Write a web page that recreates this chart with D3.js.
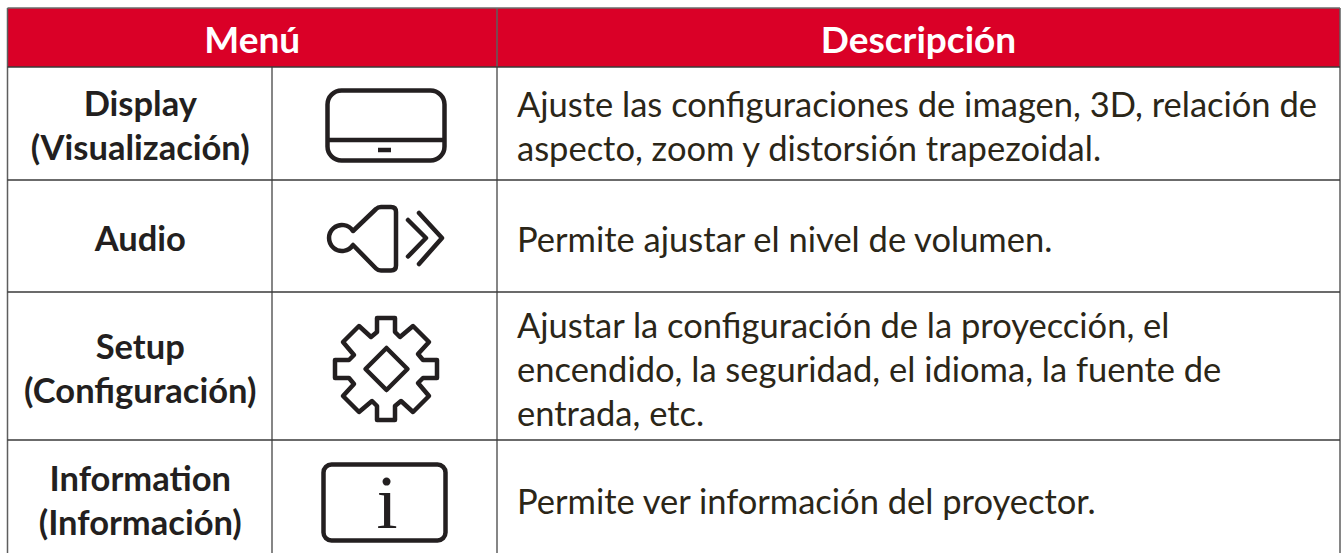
<!DOCTYPE html>
<html>
<head>
<meta charset="utf-8">
<script src="https://cdnjs.cloudflare.com/ajax/libs/d3/7.8.5/d3.min.js"></script>
<style>
html, body { margin: 0; padding: 0; background: #fff; }
svg { display: block; }
text { font-family: Lato, "Open Sans", sans-serif; }
</style>
</head>
<body>
<svg width="1342" height="553"></svg>
<script>
const headers = ["Menú", "Descripción"];
const menuLabels = [["Display", "(Visualización)"], ["Audio"], ["Setup", "(Configuración)"], ["Information", "(Información)"]];
const icons = ["display", "audio", "setup", "info"];
const descriptions = [
    ["Ajuste las configuraciones de imagen, 3D, relación de", "aspecto, zoom y distorsión trapezoidal."],
    ["Permite ajustar el nivel de volumen."],
    ["Ajustar la configuración de la proyección, el", "encendido, la seguridad, el idioma, la fuente de", "entrada, etc."],
    ["Permite ver información del proyector."]
];

const width = 1342, height = 553;
const red = "#da0027", ink = "#231f20", descInk = "#2b2618", rule = "#5e5e5e";
const colX = { left: 7.5, icon: 272, desc: 497, right: 1340 };
const rowY = [8, 67, 180, 292, 440, 557];
const lineH = 44;

const svg = d3.select("svg");

svg.append("rect")
    .attr("x", colX.left).attr("y", rowY[0])
    .attr("width", colX.right - colX.left).attr("height", rowY[1] - rowY[0])
    .attr("fill", red);

// table rules
const vLines = [[colX.left, rowY[0]], [colX.icon, rowY[1]], [colX.desc, rowY[0]], [colX.right, rowY[0]]];
svg.selectAll("line.v").data(vLines).enter().append("line")
    .attr("class", "v")
    .attr("x1", d => d[0]).attr("x2", d => d[0])
    .attr("y1", d => d[1]).attr("y2", height)
    .attr("stroke", rule).attr("stroke-width", 1.5);

svg.selectAll("line.h").data(rowY.slice(0, 5)).enter().append("line")
    .attr("class", "h")
    .attr("x1", colX.left).attr("x2", colX.right)
    .attr("y1", d => d).attr("y2", d => d)
    .attr("stroke", (d, i) => i === 0 ? "#6b6b6b" : "#3a3a3a").attr("stroke-width", 1.5);

// header
svg.selectAll("text.head").data(headers).enter().append("text")
    .attr("class", "head")
    .attr("x", (d, i) => i === 0 ? (colX.left + colX.desc) / 2 : (colX.desc + colX.right) / 2)
    .attr("y", 52.5)
    .attr("text-anchor", "middle")
    .attr("font-size", 37).attr("font-weight", 700)
    .attr("fill", "#fff")
    .text(d => d);

const rows = svg.selectAll("g.row").data(d3.range(menuLabels.length)).enter().append("g").attr("class", "row");

function firstBaseline(i, n) {
    const mid = (rowY[i + 1] + rowY[i + 2]) / 2;
    return mid + 14.5 - (n - 1) * lineH / 2;
}

rows.each(function(i) {
    const g = d3.select(this);
    g.selectAll("text.menu").data(menuLabels[i]).enter().append("text")
        .attr("class", "menu")
        .attr("x", (colX.left + colX.icon) / 2 + 0.5)
        .attr("y", (d, k) => firstBaseline(i, menuLabels[i].length) + k * lineH)
        .attr("text-anchor", "middle")
        .attr("font-size", 34.5).attr("font-weight", 700)
        .attr("fill", ink)
        .text(d => d);

    g.selectAll("text.desc").data(descriptions[i]).enter().append("text")
        .attr("class", "desc")
        .attr("x", 517)
        .attr("y", (d, k) => firstBaseline(i, descriptions[i].length) + 1 + k * lineH)
        .attr("font-size", 34.5)
        .attr("fill", descInk)
        .text(d => d);

    const icon = g.append("g")
        .attr("transform", `translate(385,${(rowY[i + 1] + rowY[i + 2]) / 2})`)
        .attr("fill", "none").attr("stroke", ink).attr("stroke-width", 4.5)
        .attr("stroke-linejoin", "round").attr("stroke-linecap", "round");
    drawIcon(icon, icons[i]);
});

function drawIcon(icon, kind) {
    if (kind === "display") {
        icon.append("rect").attr("x", -57.5).attr("y", -33).attr("width", 117).attr("height", 70).attr("rx", 14);
        icon.append("path").attr("d", "M-57.5,16.5H59.5").attr("stroke-linecap", "butt");
        icon.append("path").attr("d", "M-7,26.5H6").attr("stroke-linecap", "butt");
    }
    if (kind === "audio") {
        icon.append("path").attr("d", "M-32,-5L-9,-27Q-7,-29 -4,-29H6Q11,-29 11,-24V29.5Q11,34.5 6,34.5H-4Q-7,34.5 -9,32.5L-32,9A13,13 0 1 1 -32,-5Z");
        icon.append("path").attr("d", "M23,-16L41,2L23,20.5");
        icon.append("path").attr("d", "M34,-23L57,2L34,28");
    }
    if (kind === "setup") {
        // one quarter of the gear outline, turned four times
        const quarter = [[-9, -51], [9, -51], [9, -37], [14, -32], [27, -43], [43, -27], [32, -15], [37, -9]];
        const outline = [];
        d3.range(4).forEach(() => {
            quarter.forEach(p => outline.push(p));
            quarter.forEach((p, k) => { quarter[k] = [-p[1], p[0]]; });
        });
        icon.append("path").attr("transform", "translate(1,3)").attr("d", d3.line()(outline) + "Z");
        icon.append("path").attr("transform", "translate(1.5,3)").attr("d", "M0,-21L21,0L0,21L-21,0Z");
    }
    if (kind === "info") {
        icon.append("rect").attr("x", -61.5).attr("y", -34).attr("width", 122).attr("height", 76).attr("rx", 8);
        icon.append("text").attr("x", 2).attr("y", 29)
            .attr("text-anchor", "middle").attr("font-size", 76)
            .attr("stroke", "none").attr("fill", ink)
            .style("font-family", "'Liberation Serif', serif")
            .text("i");
    }
}
</script>
</body>
</html>
